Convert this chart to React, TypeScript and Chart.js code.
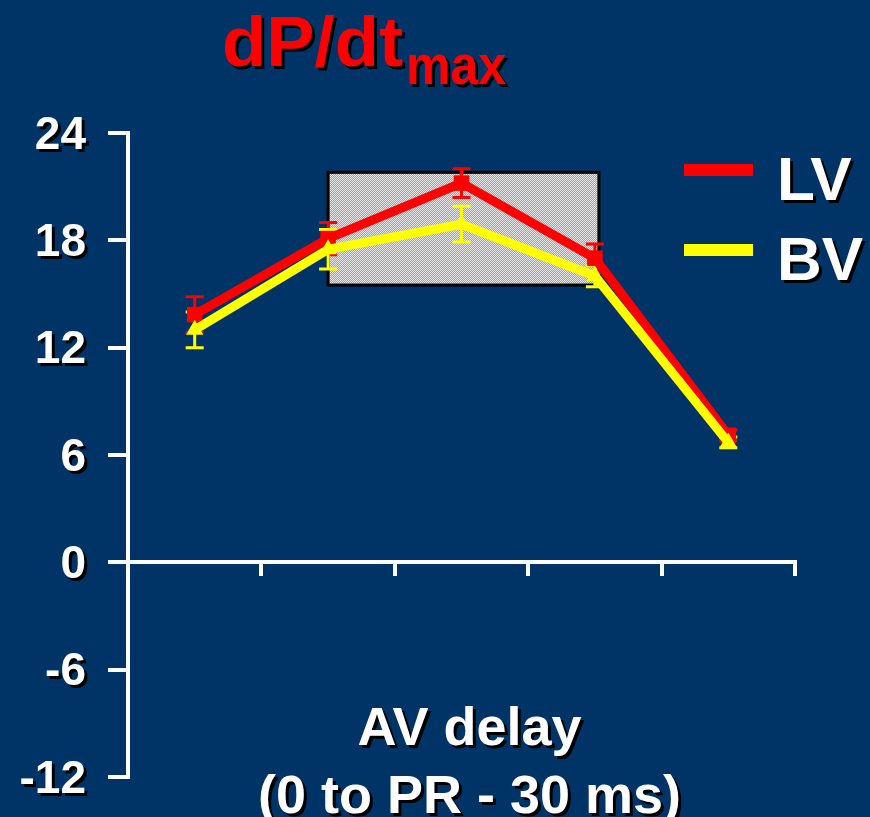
import React, { useEffect, useRef } from "react";
import { Chart, registerables } from "chart.js";

Chart.register(...registerables);

// ---- data ----
const categories = ["A1", "A2", "A3", "A4", "A5"];
const lvValues = [13.85, 18.1, 21.2, 17.0, 7.1];
const lvErrors = [1.0, 0.9, 0.8, 0.8, 0.3];
const bvValues = [13.0, 17.5, 18.9, 16.0, 6.7];
const bvErrors = [1.0, 1.1, 1.0, 0.6, 0.3];
const yTicks = [-12, -6, 0, 6, 12, 18, 24];
const seriesLabels = ["LV", "BV"];
const titleMain = "dP/dt";
const titleSub = "max";
const xTitleLines = ["AV delay", "(0 to PR - 30 ms)"];
const boxXRange = [1, 3.03];
const boxYRange = [15.5, 21.8];

const BG = "#003366";
const RED = "#ff0000";
const YELLOW = "#ffff00";
const FONT = "'Liberation Sans', Arial, sans-serif";

function makePattern(ctx: CanvasRenderingContext2D) {
  const c = document.createElement("canvas");
  c.width = 4;
  c.height = 4;
  const p = c.getContext("2d")!;
  for (let y = 0; y < 4; y++) {
    for (let x = 0; x < 4; x++) {
      p.fillStyle = (x + y) % 2 === 0 ? "#e2e2e2" : "#a4a4a4";
      p.fillRect(x, y, 1, 1);
    }
  }
  return ctx.createPattern(c, "repeat");
}

function shadowOn(ctx: CanvasRenderingContext2D) {
  ctx.shadowColor = "#000000";
  ctx.shadowOffsetX = 3;
  ctx.shadowOffsetY = 3;
  ctx.shadowBlur = 0;
}

function fitText(ctx: CanvasRenderingContext2D, text: string, x: number, y: number, width: number) {
  const m = ctx.measureText(text).width;
  ctx.save();
  ctx.translate(x, y);
  ctx.scale(width / m, 1);
  ctx.fillText(text, 0, 0);
  ctx.restore();
}

const decorPlugin = {
  id: "decor",
  beforeDatasetsDraw(chart: any) {
    const ctx: CanvasRenderingContext2D = chart.ctx;
    const xs = chart.scales.x;
    const ys = chart.scales.y;
    // shaded optimal box
    const x1 = xs.getPixelForValue(boxXRange[0]);
    const x2 = xs.getPixelForValue(boxXRange[1]);
    const y1 = ys.getPixelForValue(boxYRange[1]);
    const y2 = ys.getPixelForValue(boxYRange[0]);
    ctx.save();
    ctx.fillStyle = makePattern(ctx) || "#c0c0c0";
    ctx.fillRect(x1, y1, x2 - x1, y2 - y1);
    ctx.strokeStyle = "#000000";
    ctx.lineWidth = 3;
    ctx.strokeRect(x1, y1, x2 - x1, y2 - y1);
    ctx.restore();

    // error bars
    const sets = [
      { v: lvValues, e: lvErrors, c: RED },
      { v: bvValues, e: bvErrors, c: YELLOW },
    ];
    ctx.save();
    ctx.lineWidth = 3;
    for (const s of sets) {
      ctx.strokeStyle = s.c;
      s.v.forEach((v, i) => {
        const px = xs.getPixelForValue(i);
        const top = ys.getPixelForValue(v + s.e[i]);
        const bot = ys.getPixelForValue(v - s.e[i]);
        ctx.beginPath();
        ctx.moveTo(px, top);
        ctx.lineTo(px, bot);
        ctx.moveTo(px - 9, top);
        ctx.lineTo(px + 9, top);
        ctx.moveTo(px - 9, bot);
        ctx.lineTo(px + 9, bot);
        ctx.stroke();
      });
    }
    ctx.restore();
  },
  afterDraw(chart: any) {
    const ctx: CanvasRenderingContext2D = chart.ctx;
    const ys = chart.scales.y;
    const area = chart.chartArea;
    ctx.save();
    shadowOn(ctx);

    // y tick labels
    ctx.fillStyle = "#ffffff";
    ctx.font = `bold 46px ${FONT}`;
    ctx.textAlign = "right";
    ctx.textBaseline = "middle";
    ys.ticks.forEach((t: any) => {
      ctx.fillText(String(t.value), area.left - 42, ys.getPixelForValue(t.value) + 3);
    });

    // title
    ctx.textAlign = "left";
    ctx.textBaseline = "alphabetic";
    ctx.fillStyle = RED;
    ctx.font = `bold 70px ${FONT}`;
    fitText(ctx, titleMain, 222, 66, 181);
    ctx.font = `bold 56px ${FONT}`;
    fitText(ctx, titleSub, 406, 84, 100);

    // x-axis title
    ctx.fillStyle = "#ffffff";
    ctx.textAlign = "center";
    ctx.font = `bold 54px ${FONT}`;
    const cx = (area.left + area.right) / 2 + 8;
    ctx.fillText(xTitleLines[0], cx, 745);
    ctx.fillText(xTitleLines[1], cx, 813);

    // legend
    ctx.textAlign = "left";
    ctx.font = `bold 62px ${FONT}`;
    chart.data.datasets.forEach((ds: any, i: number) => {
      const ly = 170 + i * 80;
      ctx.save();
      ctx.shadowColor = "transparent";
      ctx.fillStyle = ds.borderColor;
      ctx.fillRect(684, ly - 6, 69, 12);
      ctx.restore();
      ctx.fillStyle = "#ffffff";
      ctx.fillText(ds.label, 777, ly + 30);
    });
    ctx.restore();
  },
};

export default function App() {
  const ref = useRef<HTMLCanvasElement>(null);
  useEffect(() => {
    const canvas = ref.current!;
    const chart = new Chart(canvas, {
      type: "line",
      data: {
        labels: categories,
        datasets: [
          {
            label: seriesLabels[0],
            data: lvValues,
            borderColor: RED,
            backgroundColor: RED,
            borderWidth: 9,
            pointStyle: "rect",
            pointRadius: 11,
            pointBorderWidth: 0,
            fill: false,
            tension: 0,
            order: 1,
          },
          {
            label: seriesLabels[1],
            data: bvValues,
            borderColor: YELLOW,
            backgroundColor: YELLOW,
            borderWidth: 9,
            pointStyle: "triangle",
            pointRadius: 10,
            pointBorderWidth: 0,
            fill: false,
            tension: 0,
            order: 0,
          },
        ],
      },
      options: {
        animation: false,
        responsive: false,
        devicePixelRatio: 1,
        layout: { padding: { top: 133, bottom: 40, left: 0, right: 75 } },
        plugins: {
          legend: { display: false },
          title: { display: false },
          tooltip: { enabled: false },
        },
        scales: {
          x: {
            type: "category",
            position: { y: 0 } as any,
            offset: true,
            grid: {
              offset: true,
              drawOnChartArea: false,
              drawTicks: true,
              tickLength: 12,
              color: "#ffffff",
              lineWidth: 4,
            },
            border: { display: true, color: "#ffffff", width: 4 },
            ticks: { display: false },
          },
          y: {
            min: -12,
            max: 24,
            afterBuildTicks: (s: any) => {
              s.ticks = yTicks.map((v) => ({ value: v }));
            },
            afterFit: (s: any) => {
              s.width = 128;
            },
            grid: {
              drawOnChartArea: false,
              drawTicks: true,
              tickLength: 20,
              color: "#ffffff",
              lineWidth: 4,
            },
            border: { display: true, color: "#ffffff", width: 4 },
            ticks: { display: false },
          },
        },
      },
      plugins: [decorPlugin],
    });
    return () => chart.destroy();
  }, []);
  return (
    <div
      style={{
        position: "absolute",
        left: 0,
        top: 0,
        width: 870,
        height: 817,
        background: BG,
        overflow: "hidden",
      }}
    >
      <canvas ref={ref} width={870} height={817} style={{ display: "block" }} />
    </div>
  );
}
